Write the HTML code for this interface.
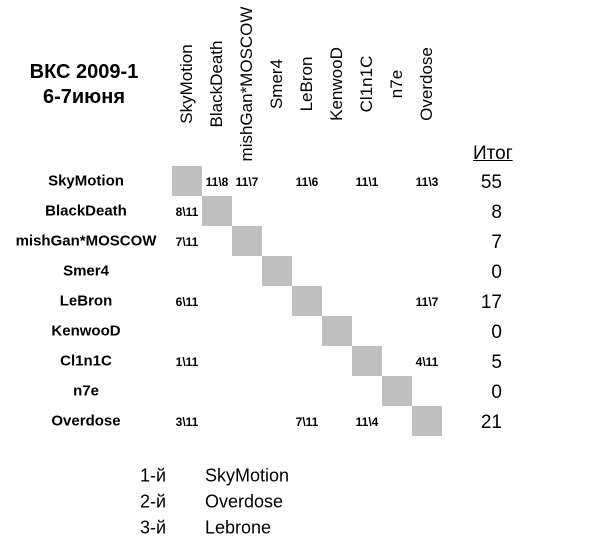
<!DOCTYPE html>
<html><head><meta charset="utf-8"><style>
body{margin:0;width:600px;height:557px;background:#fff;position:relative;overflow:hidden;font-family:"Liberation Sans",Arial,sans-serif;color:#000}
.a{position:absolute;white-space:nowrap}
.t{font-weight:bold;font-size:20px;text-align:center;width:160px;left:4px}
.ch{font-size:17px;transform:translate(-50%,-50%) rotate(-90deg);top:84px}
.rl{font-weight:bold;font-size:15px;width:160px;left:6px;text-align:center;transform:translateY(-50%)}
.g{position:absolute;width:30px;height:30px;background:#c0c0c0}
.s{font-weight:bold;font-size:12px;width:40px;text-align:center;transform:translate(-50%,-50%)}
.tot{font-size:19px;right:98px;transform:translateY(-50%)}
.b{font-size:18px;transform:translateY(-50%)}
</style></head><body>
<div class="a t" style="top:61px">ВКС 2009-1</div>
<div class="a t" style="top:86px">6-7июня</div>

<div class="a ch" style="left:187px">SkyMotion</div>
<div class="a ch" style="left:217px">BlackDeath</div>
<div class="a ch" style="left:247px">mishGan*MOSCOW</div>
<div class="a ch" style="left:277px">Smer4</div>
<div class="a ch" style="left:307px">LeBron</div>
<div class="a ch" style="left:337px">KenwooD</div>
<div class="a ch" style="left:367px">Cl1n1C</div>
<div class="a ch" style="left:397px">n7e</div>
<div class="a ch" style="left:427px">Overdose</div>

<div class="a rl" style="top:181px">SkyMotion</div>
<div class="a rl" style="top:211px">BlackDeath</div>
<div class="a rl" style="top:241px">mishGan*MOSCOW</div>
<div class="a rl" style="top:271px">Smer4</div>
<div class="a rl" style="top:301px">LeBron</div>
<div class="a rl" style="top:331px">KenwooD</div>
<div class="a rl" style="top:361px">Cl1n1C</div>
<div class="a rl" style="top:391px">n7e</div>
<div class="a rl" style="top:421px">Overdose</div>

<div class="g" style="left:172px;top:166px"></div>
<div class="g" style="left:202px;top:196px"></div>
<div class="g" style="left:232px;top:226px"></div>
<div class="g" style="left:262px;top:256px"></div>
<div class="g" style="left:292px;top:286px"></div>
<div class="g" style="left:322px;top:316px"></div>
<div class="g" style="left:352px;top:346px"></div>
<div class="g" style="left:382px;top:376px"></div>
<div class="g" style="left:412px;top:406px"></div>

<div class="a s" style="left:217px;top:182px">11\8</div>
<div class="a s" style="left:247px;top:182px">11\7</div>
<div class="a s" style="left:307px;top:182px">11\6</div>
<div class="a s" style="left:367px;top:182px">11\1</div>
<div class="a s" style="left:427px;top:182px">11\3</div>
<div class="a s" style="left:187px;top:212px">8\11</div>
<div class="a s" style="left:187px;top:242px">7\11</div>
<div class="a s" style="left:187px;top:302px">6\11</div>
<div class="a s" style="left:427px;top:302px">11\7</div>
<div class="a s" style="left:187px;top:362px">1\11</div>
<div class="a s" style="left:427px;top:362px">4\11</div>
<div class="a s" style="left:187px;top:422px">3\11</div>
<div class="a s" style="left:307px;top:422px">7\11</div>
<div class="a s" style="left:367px;top:422px">11\4</div>

<div class="a" style="left:473px;top:143px;font-size:19px;text-decoration:underline">Итог</div>
<div class="a tot" style="top:183px">55</div>
<div class="a tot" style="top:213px">8</div>
<div class="a tot" style="top:243px">7</div>
<div class="a tot" style="top:273px">0</div>
<div class="a tot" style="top:303px">17</div>
<div class="a tot" style="top:333px">0</div>
<div class="a tot" style="top:363px">5</div>
<div class="a tot" style="top:393px">0</div>
<div class="a tot" style="top:423px">21</div>

<div class="a b" style="left:140px;top:476px">1-й</div>
<div class="a b" style="left:205px;top:476px">SkyMotion</div>
<div class="a b" style="left:140px;top:502px">2-й</div>
<div class="a b" style="left:205px;top:502px">Overdose</div>
<div class="a b" style="left:140px;top:528px">3-й</div>
<div class="a b" style="left:205px;top:528px">Lebrone</div>
</body></html>
